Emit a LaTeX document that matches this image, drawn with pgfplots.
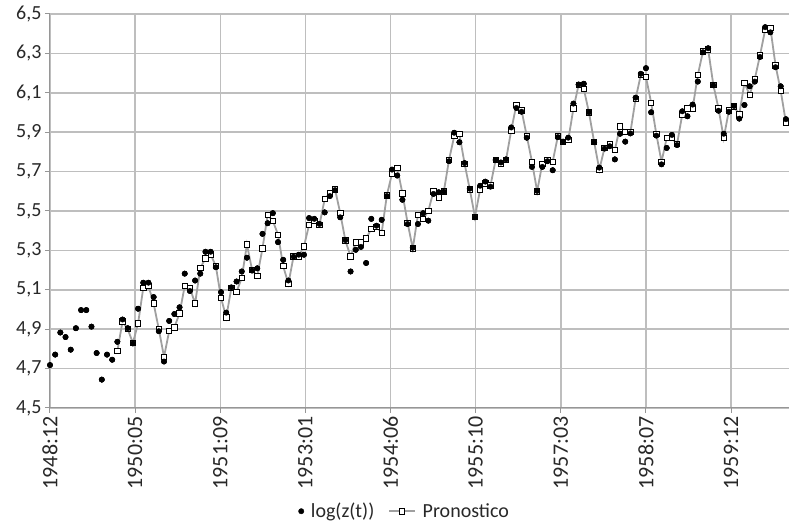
\documentclass[border=0pt]{standalone}
\usepackage{pgfplots}
\pgfplotsset{compat=1.18}
\usepackage{fontspec}
\setmainfont{Carlito}
\definecolor{gridc}{RGB}{190,190,190}
\definecolor{axc}{RGB}{150,150,150}
\definecolor{linec}{RGB}{160,160,160}
\definecolor{txt}{RGB}{40,40,40}
\pgfplotsset{longlegend/.style={legend image code/.code={\draw[mark repeat=2,mark phase=2,##1] plot coordinates {(0cm,0cm)(0.45cm,0cm)(0.9cm,0cm)};}}}
\begin{document}
\begin{tikzpicture}
\begin{axis}[
  scale only axis, width=739pt, height=394pt,
  xmin=0, xmax=142.6, ymin=4.5, ymax=6.5,
  axis x line*=bottom, axis y line*=left,
  axis line style={axc, line width=1pt},
  xtick={0,16.427,32.854,49.281,65.708,82.135,98.562,114.989,131.416},
  xticklabels={1948:12,1950:05,1951:09,1953:01,1954:06,1955:10,1957:03,1958:07,1959:12},
  ytick={4.5,4.7,4.9,5.1,5.3,5.5,5.7,5.9,6.1,6.3,6.5},
  yticklabel style={/pgf/number format/.cd, fixed, fixed zerofill, precision=1, use comma, assume math mode=true},
  tick label style={font=\fontsize{20}{20}\selectfont, text=txt},
  x tick label style={rotate=90, anchor=east, font=\fontsize{22}{22}\selectfont, /pgf/number format/assume math mode=true},
  tick align=outside, major tick length=5pt, tick style={axc, line width=1pt},
  grid=major, major grid style={gridc, line width=1.5pt},
  legend style={at={(0.48,-0.262)}, anchor=center, draw=none, fill=none,
    font=\fontsize{20}{20}\selectfont, text=txt,
    /tikz/every odd column/.append style={column sep=5pt},
    /tikz/every even column/.append style={column sep=12pt}},
  legend columns=2,
]
\addplot[only marks, mark=*, mark size=2.7pt, black] coordinates {
(0,4.718)(1,4.771)(2,4.883)(3,4.860)(4,4.796)(5,4.905)(6,4.997)(7,4.997)(8,4.913)(9,4.779)(10,4.644)(11,4.771)
(12,4.745)(13,4.836)(14,4.949)(15,4.905)(16,4.828)(17,5.004)(18,5.136)(19,5.136)(20,5.063)(21,4.890)(22,4.736)(23,4.942)
(24,4.977)(25,5.011)(26,5.182)(27,5.094)(28,5.147)(29,5.182)(30,5.293)(31,5.293)(32,5.215)(33,5.088)(34,4.984)(35,5.112)
(36,5.142)(37,5.193)(38,5.263)(39,5.198)(40,5.209)(41,5.384)(42,5.438)(43,5.489)(44,5.342)(45,5.252)(46,5.147)(47,5.268)
(48,5.278)(49,5.278)(50,5.464)(51,5.460)(52,5.434)(53,5.493)(54,5.576)(55,5.606)(56,5.468)(57,5.352)(58,5.193)(59,5.303)
(60,5.318)(61,5.236)(62,5.460)(63,5.425)(64,5.455)(65,5.576)(66,5.710)(67,5.680)(68,5.557)(69,5.434)(70,5.313)(71,5.434)
(72,5.489)(73,5.451)(74,5.587)(75,5.595)(76,5.598)(77,5.753)(78,5.897)(79,5.849)(80,5.743)(81,5.613)(82,5.468)(83,5.628)
(84,5.649)(85,5.624)(86,5.759)(87,5.746)(88,5.762)(89,5.924)(90,6.023)(91,6.004)(92,5.872)(93,5.724)(94,5.602)(95,5.724)
(96,5.753)(97,5.707)(98,5.875)(99,5.852)(100,5.872)(101,6.045)(102,6.142)(103,6.146)(104,6.001)(105,5.849)(106,5.720)(107,5.817)
(108,5.829)(109,5.762)(110,5.892)(111,5.852)(112,5.894)(113,6.075)(114,6.196)(115,6.225)(116,6.001)(117,5.883)(118,5.737)(119,5.820)
(120,5.886)(121,5.835)(122,6.006)(123,5.981)(124,6.040)(125,6.157)(126,6.306)(127,6.326)(128,6.138)(129,6.009)(130,5.892)(131,6.004)
(132,6.033)(133,5.969)(134,6.038)(135,6.133)(136,6.157)(137,6.282)(138,6.433)(139,6.407)(140,6.230)(141,6.133)(142,5.966)
};
\addlegendentry{log(z(t))}
\addplot[linec, line width=1.8pt, mark=square*, mark size=2.7pt, mark options={fill=white, draw=black, line width=0.8pt}, longlegend] coordinates {
(13,4.79)(14,4.94)(15,4.90)(16,4.83)(17,4.93)(18,5.11)(19,5.12)(20,5.03)(21,4.90)(22,4.76)(23,4.89)
(24,4.91)(25,4.98)(26,5.12)(27,5.11)(28,5.03)(29,5.21)(30,5.26)(31,5.28)(32,5.22)(33,5.06)(34,4.96)(35,5.11)
(36,5.09)(37,5.16)(38,5.33)(39,5.20)(40,5.17)(41,5.31)(42,5.48)(43,5.45)(44,5.38)(45,5.22)(46,5.13)(47,5.27)
(48,5.27)(49,5.32)(50,5.43)(51,5.45)(52,5.43)(53,5.56)(54,5.59)(55,5.61)(56,5.49)(57,5.35)(58,5.27)(59,5.34)
(60,5.34)(61,5.36)(62,5.41)(63,5.42)(64,5.39)(65,5.58)(66,5.69)(67,5.72)(68,5.59)(69,5.44)(70,5.31)(71,5.48)
(72,5.46)(73,5.50)(74,5.60)(75,5.57)(76,5.60)(77,5.76)(78,5.88)(79,5.89)(80,5.74)(81,5.61)(82,5.47)(83,5.61)
(84,5.64)(85,5.63)(86,5.76)(87,5.74)(88,5.76)(89,5.91)(90,6.04)(91,6.01)(92,5.88)(93,5.75)(94,5.60)(95,5.74)
(96,5.76)(97,5.75)(98,5.88)(99,5.85)(100,5.86)(101,6.02)(102,6.14)(103,6.12)(104,6.00)(105,5.85)(106,5.71)(107,5.82)
(108,5.84)(109,5.81)(110,5.93)(111,5.90)(112,5.90)(113,6.07)(114,6.19)(115,6.18)(116,6.05)(117,5.89)(118,5.75)(119,5.87)
(120,5.87)(121,5.84)(122,5.99)(123,6.02)(124,6.02)(125,6.19)(126,6.31)(127,6.32)(128,6.14)(129,6.02)(130,5.87)(131,6.01)
(132,6.03)(133,5.99)(134,6.15)(135,6.09)(136,6.17)(137,6.29)(138,6.42)(139,6.43)(140,6.24)(141,6.11)(142,5.95)
};
\addlegendentry{Pronostico}
\addplot[only marks, mark=*, mark size=2.7pt, black, forget plot] coordinates {
(0,4.718)(1,4.771)(2,4.883)(3,4.860)(4,4.796)(5,4.905)(6,4.997)(7,4.997)(8,4.913)(9,4.779)(10,4.644)(11,4.771)
(12,4.745)(13,4.836)(14,4.949)(15,4.905)(16,4.828)(17,5.004)(18,5.136)(19,5.136)(20,5.063)(21,4.890)(22,4.736)(23,4.942)
(24,4.977)(25,5.011)(26,5.182)(27,5.094)(28,5.147)(29,5.182)(30,5.293)(31,5.293)(32,5.215)(33,5.088)(34,4.984)(35,5.112)
(36,5.142)(37,5.193)(38,5.263)(39,5.198)(40,5.209)(41,5.384)(42,5.438)(43,5.489)(44,5.342)(45,5.252)(46,5.147)(47,5.268)
(48,5.278)(49,5.278)(50,5.464)(51,5.460)(52,5.434)(53,5.493)(54,5.576)(55,5.606)(56,5.468)(57,5.352)(58,5.193)(59,5.303)
(60,5.318)(61,5.236)(62,5.460)(63,5.425)(64,5.455)(65,5.576)(66,5.710)(67,5.680)(68,5.557)(69,5.434)(70,5.313)(71,5.434)
(72,5.489)(73,5.451)(74,5.587)(75,5.595)(76,5.598)(77,5.753)(78,5.897)(79,5.849)(80,5.743)(81,5.613)(82,5.468)(83,5.628)
(84,5.649)(85,5.624)(86,5.759)(87,5.746)(88,5.762)(89,5.924)(90,6.023)(91,6.004)(92,5.872)(93,5.724)(94,5.602)(95,5.724)
(96,5.753)(97,5.707)(98,5.875)(99,5.852)(100,5.872)(101,6.045)(102,6.142)(103,6.146)(104,6.001)(105,5.849)(106,5.720)(107,5.817)
(108,5.829)(109,5.762)(110,5.892)(111,5.852)(112,5.894)(113,6.075)(114,6.196)(115,6.225)(116,6.001)(117,5.883)(118,5.737)(119,5.820)
(120,5.886)(121,5.835)(122,6.006)(123,5.981)(124,6.040)(125,6.157)(126,6.306)(127,6.326)(128,6.138)(129,6.009)(130,5.892)(131,6.004)
(132,6.033)(133,5.969)(134,6.038)(135,6.133)(136,6.157)(137,6.282)(138,6.433)(139,6.407)(140,6.230)(141,6.133)(142,5.966)
};
\end{axis}
\pgfresetboundingbox
\path ([xshift=-50pt,yshift=-115pt]current axis.south west) rectangle ([yshift=14pt]current axis.north east);
\end{tikzpicture}
\end{document}
